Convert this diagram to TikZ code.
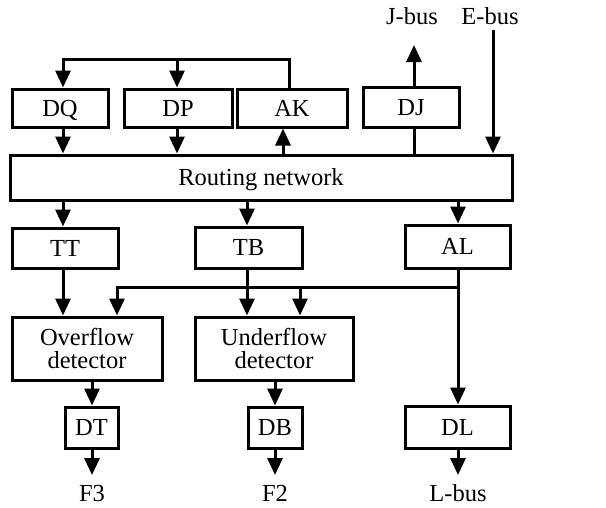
\documentclass[tikz,border=0pt]{standalone}
\usepackage{fontspec}
\setmainfont{Liberation Serif}
\usetikzlibrary{arrows.meta}
\begin{document}
\begin{tikzpicture}[x=1pt,y=-1pt,
  lw/.style={line width=3pt},
  txt/.style={font=\fontsize{24.5}{23}\selectfont},
  box/.style={draw,lw,txt,inner sep=0pt,text height=16.2pt,text depth=0pt},
  box2/.style={draw,lw,txt,inner sep=0pt,align=center},
  lbl/.style={txt,inner sep=0pt,anchor=base},
  arr/.style={lw,-{Triangle[width=15pt,length=17pt]}},
  wire/.style={lw}]
\useasboundingbox (0,0) rectangle (606,507);
% boxes
\node[box,minimum width=96pt,minimum height=38pt] (DQ) at (60,108) {DQ};
\node[box,minimum width=108pt,minimum height=38pt] (DP) at (178,108) {DP};
\node[box,minimum width=110pt,minimum height=38pt] (AK) at (292,108) {AK};
\node[box,minimum width=96pt,minimum height=40pt] (DJ) at (411,107) {DJ};
\node[box,minimum width=502pt,minimum height=45pt] (R) at (261,177.5) {Routing network};
\node[box,minimum width=106pt,minimum height=40pt] (TT) at (65,248) {TT};
\node[box,minimum width=107pt,minimum height=41pt] (TB) at (248.5,247.5) {TB};
\node[box,minimum width=105pt,minimum height=43pt] (AL) at (457.5,246.5) {AL};
\node[box2,minimum width=150pt,minimum height=63pt] (OF) at (87,348.5) {Overflow\\detector};
\node[box2,minimum width=158pt,minimum height=63pt] (UF) at (274,348.5) {Underflow\\detector};
\node[box,minimum width=53pt,minimum height=41pt] (DT) at (91.5,427.5) {DT};
\node[box,minimum width=54pt,minimum height=41pt] (DB) at (275,427.5) {DB};
\node[box,minimum width=105pt,minimum height=42pt] (DL) at (457.5,427) {DL};
% labels
\node[lbl] (Jbus) at (412,24) {J-bus};
\node[lbl] (Ebus) at (490,24) {E-bus};
\node[lbl] (F3) at (92,501) {F3};
\node[lbl] (F2) at (275,501) {F2};
\node[lbl] (Lbus) at (458,501) {L-bus};
% coordinates
\coordinate (c1) at (63,0);
\coordinate (c2) at (177,0);
\coordinate (c3) at (283,0);
\coordinate (c4) at (414,0);
\coordinate (c5) at (493,0);
\coordinate (c6) at (247,0);
\coordinate (c7) at (458,0);
\coordinate (c8) at (117,0);
\coordinate (c9) at (300,0);
\coordinate (c10) at (92,0);
\coordinate (c11) at (275,0);
\coordinate (fbR) at (289,59);
\coordinate (fbL) at (63,59);
\coordinate (fbM) at (177,59);
\coordinate (jtip) at (414,45);
\coordinate (etop) at (493,30);
\coordinate (hR) at (458,287);
\coordinate (hL) at (117,287);
\coordinate (btip) at (0,475);
% top feedback
\draw[arr] (AK.north -| fbR) -- (fbR) -- (fbL) -- (DQ.north -| fbL);
\draw[arr] (fbM) -- (DP.north -| fbM);
% into routing
\draw[arr] (DQ.south -| c1) -- (R.north -| c1);
\draw[arr] (DP.south -| c2) -- (R.north -| c2);
\draw[arr] (R.north -| c3) -- (AK.south -| c3);
\draw[wire] (R.north -| c4) -- (DJ.south -| c4);
\draw[arr] (DJ.north -| c4) -- (jtip);
\draw[arr] (etop) -- (R.north -| c5);
% out of routing
\draw[arr] (R.south -| c1) -- (TT.north -| c1);
\draw[arr] (R.south -| c6) -- (TB.north -| c6);
\draw[arr] (R.south -| c7) -- (AL.north -| c7);
% to detectors
\draw[arr] (TT.south -| c1) -- (OF.north -| c1);
\draw[arr] (TB.south -| c6) -- (UF.north -| c6);
\draw[arr] (AL.south -| c7) -- (DL.north -| c7);
\draw[arr] (hR) -- (hL) -- (OF.north -| hL);
\draw[arr] (c9 |- hR) -- (UF.north -| c9);
% outputs
\draw[arr] (OF.south -| c10) -- (DT.north -| c10);
\draw[arr] (UF.south -| c11) -- (DB.north -| c11);
\draw[arr] (DT.south -| c10) -- (c10 |- btip);
\draw[arr] (DB.south -| c11) -- (c11 |- btip);
\draw[arr] (DL.south -| c7) -- (c7 |- btip);
\end{tikzpicture}
\end{document}
